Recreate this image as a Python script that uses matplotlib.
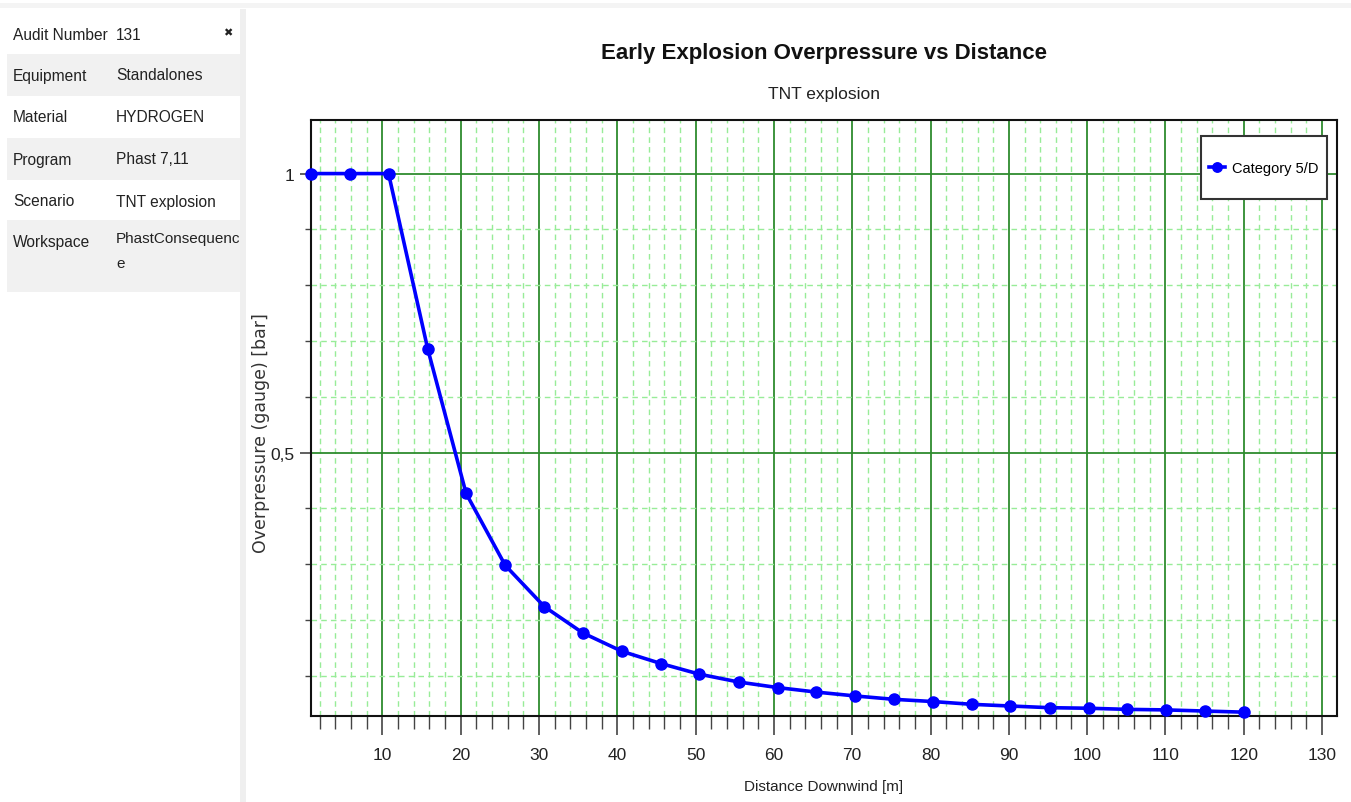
import matplotlib
matplotlib.use("Agg")
import matplotlib.pyplot as plt
from matplotlib.patches import Rectangle
from matplotlib.ticker import FixedLocator, MultipleLocator

# ---------------- data ----------------
title = "Early Explosion Overpressure vs Distance"
subtitle = "TNT explosion"
x_label = "Distance Downwind [m]"
y_label = "Overpressure (gauge) [bar]"
series_name = "Category 5/D"

distance = [0.9, 5.9, 10.8, 15.8, 20.7, 25.7, 30.7, 35.6, 40.6, 45.6, 50.5, 55.5,
            60.5, 65.4, 70.4, 75.3, 80.3, 85.3, 90.2, 95.2, 100.2, 105.1, 110.1,
            115.0, 120.0]
overpressure = [1.0, 1.0, 1.0, 0.686, 0.427, 0.298, 0.224, 0.177, 0.144, 0.122,
                0.103, 0.089, 0.079, 0.071, 0.064, 0.058, 0.054, 0.049, 0.046,
                0.043, 0.042, 0.040, 0.039, 0.037, 0.035]

x_major_ticks = [10, 20, 30, 40, 50, 60, 70, 80, 90, 100, 110, 120, 130]
y_major_ticks = [0.5, 1.0]
y_major_labels = ["0,5", "1"]

table_labels = ["Audit Number", "Equipment", "Material", "Program", "Scenario", "Workspace"]
table_values = ["131", "Standalones", "HYDROGEN", "Phast 7,11", "TNT explosion",
                "PhastConsequenc\ne"]

# ---------------- fonts ----------------
plt.rcParams["font.family"] = ["Liberation Sans", "DejaVu Sans"]

W, H = 1351, 803
fig = plt.figure(figsize=(W / 100, H / 100), dpi=100, facecolor="white")

def fx(px):
    return px / W

def fy(py):
    return 1 - py / H

# ---------------- background frame ----------------
fig.patches.append(Rectangle((0, fy(9)), 1, fy(4) - fy(9), transform=fig.transFigure,
                             facecolor="#f4f4f4", edgecolor="none", zorder=0))
fig.patches.append(Rectangle((fx(240), 0), fx(246) - fx(240), fy(10), transform=fig.transFigure,
                             facecolor="#efefef", edgecolor="none", zorder=0))

# ---------------- left table ----------------
row_edges = [14, 55, 97, 139, 181, 221, 293]
for i in range(len(table_labels)):
    top, bot = row_edges[i], row_edges[i + 1]
    color = "white" if i % 2 == 0 else "#f1f1f1"
    fig.patches.append(Rectangle((fx(7), fy(bot)), fx(240) - fx(7), fy(top) - fy(bot),
                                 transform=fig.transFigure, facecolor=color,
                                 edgecolor="none", zorder=0))
    ty = top + 21
    fig.text(fx(13), fy(ty), table_labels[i], fontsize=11.2, color="#222222",
             va="center", ha="left")
    if "\n" in table_values[i]:
        fig.text(fx(116), fy(ty - 10), table_values[i], fontsize=11, color="#222222",
                 va="top", ha="left", linespacing=2.0)
    else:
        fig.text(fx(116), fy(ty), table_values[i], fontsize=11.2, color="#222222",
                 va="center", ha="left")
fig.text(fx(228), fy(33), "\u2716", fontsize=8, color="#222222", ha="center", va="center",
         family=["DejaVu Sans"])

# ---------------- chart ----------------
ax_l, ax_r, ax_t, ax_b = 311, 1337, 121, 716.5
ax = fig.add_axes([fx(ax_l), fy(ax_b), fx(ax_r) - fx(ax_l), fy(ax_t) - fy(ax_b)])
ax.set_facecolor("white")

ax.plot(distance, overpressure, color="#0000ff", lw=2.6, marker="o", markersize=8,
        markeredgecolor="#0000ff", markerfacecolor="#0000ff", label=series_name,
        zorder=5, clip_on=False)

ax.set_xlim(0.9, 131.9)
ax.set_ylim(0.029, 1.096)

ax.xaxis.set_major_locator(FixedLocator(x_major_ticks))
ax.xaxis.set_minor_locator(MultipleLocator(2))
ax.yaxis.set_major_locator(FixedLocator(y_major_ticks))
ax.set_yticklabels(y_major_labels)
ax.yaxis.set_minor_locator(MultipleLocator(0.1))

ax.grid(which="major", color="#2e8b2e", lw=1.3, zorder=1)
ax.grid(which="minor", color="#98ec98", lw=1.0, linestyle=(0, (4, 3)), zorder=1)
ax.set_axisbelow(True)

ax.tick_params(axis="x", which="major", length=14, width=1.2, color="#444444",
               labelsize=12.5, pad=9, labelcolor="#222222")
ax.tick_params(axis="x", which="minor", length=9, width=1.0, color="#444444")
ax.tick_params(axis="y", which="major", length=8, width=1.2, color="#444444",
               labelsize=12.5, pad=4, labelcolor="#222222")
ax.tick_params(axis="y", which="minor", length=4, width=1.0, color="#444444")

for s in ax.spines.values():
    s.set_color("#111111")
    s.set_linewidth(1.5)

ax.set_xlabel(x_label, fontsize=11, color="#222222", labelpad=12)
ax.set_ylabel(y_label, fontsize=12.5, color="#333333", family=["DejaVu Sans"])
ax.yaxis.set_label_coords((270 - ax_l) / (ax_r - ax_l), (ax_b - 433) / (ax_b - ax_t))

fig.text(fx(824), fy(53), title, fontsize=16, fontweight="bold", ha="center",
         va="center", color="#111111")
fig.text(fx(824), fy(94), subtitle, fontsize=12.5, ha="center", va="center", color="#222222")

# legend frame drawn to match the reference box, legend entries from matplotlib
box_l, box_r, box_t, box_b = 1201, 1327, 137, 200
frame = Rectangle((fx(box_l), fy(box_b)), fx(box_r) - fx(box_l), fy(box_t) - fy(box_b),
                  transform=fig.transFigure, facecolor="white", edgecolor="#333333",
                  lw=1.5, zorder=8, clip_on=False)
ax.add_patch(frame)
leg = ax.legend(loc="center", bbox_to_anchor=(fx((box_l + box_r) / 2), fy((box_t + box_b) / 2 + 1)),
                bbox_transform=fig.transFigure, fontsize=10.5, frameon=False,
                borderpad=0, handlelength=1.1, handletextpad=0.45, borderaxespad=0,
                markerscale=0.85)
leg.set_zorder(10)

fig.savefig("out.png", dpi=100, facecolor="white")
